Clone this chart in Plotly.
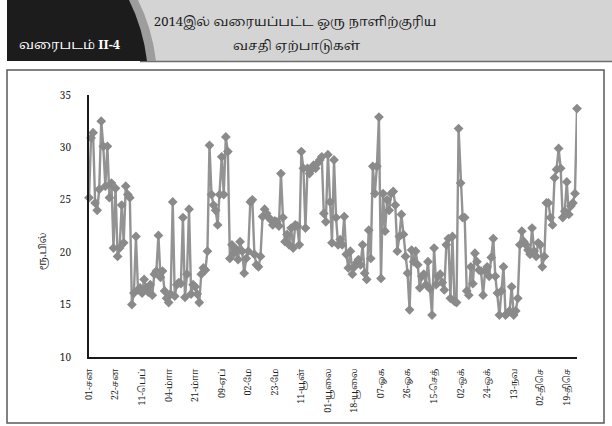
import plotly.graph_objects as go

# ---- data (Rs. billion, daily, 2014) ----
values = [
    25.2, 30.9, 31.4, 24.7, 24.0, 26.0, 32.5, 30.1, 26.3, 30.1, 25.2, 26.6, 20.4,
    26.1, 19.6, 20.4, 24.5, 20.9, 26.3, 25.5, 25.2, 15.0, 16.1, 21.5, 16.4, 16.6,
    16.1, 17.4, 16.6, 16.2, 16.9, 15.9, 17.9, 18.2, 21.6, 17.6, 18.2, 16.3, 15.6,
    15.2, 16.0, 24.8, 15.8, 16.9, 17.1, 17.0, 23.3, 15.7, 17.9, 24.1, 16.0, 16.9,
    16.7, 16.0, 15.2, 17.9, 18.5, 18.3, 20.1, 30.2, 25.5, 24.5, 24.0, 22.6, 25.5,
    29.1, 25.5, 31.0, 29.6, 19.4, 20.7, 19.9, 20.3, 19.3, 21.0, 20.1, 18.0, 19.4,
    20.1, 24.8, 25.0, 19.8, 18.8, 18.6, 19.6, 23.4, 24.1, 23.7, 23.3, 23.1, 22.6,
    23.0, 22.9, 22.5, 27.5, 23.3, 21.0, 21.7, 20.7, 22.3, 20.4, 22.6, 22.5, 20.7,
    29.6, 28.0, 22.3, 28.0, 27.5, 27.9, 28.3, 28.0, 28.5, 28.8, 29.1, 23.7, 22.9,
    29.3, 24.8, 20.9, 28.8, 23.3, 20.7, 21.2, 20.7, 23.4, 19.8, 18.5, 20.1, 17.9,
    18.6, 19.0, 19.3, 18.8, 20.7, 18.0, 17.4, 22.1, 19.4, 28.2, 25.6, 28.2, 32.9,
    17.5, 25.6, 22.0, 25.0, 24.0, 25.6, 25.8, 24.5, 20.1, 21.5, 23.6, 21.7, 19.6,
    18.0, 14.5, 20.2, 19.1, 20.1, 18.8, 16.6, 17.7, 17.9, 16.9, 19.1, 16.5, 14.0,
    20.4, 16.9, 17.7, 17.9, 17.1, 16.4, 20.7, 21.3, 15.6, 21.5, 15.3, 15.2, 31.8,
    26.6, 23.3, 23.3, 16.3, 15.9, 18.6, 17.0, 19.9, 19.1, 18.3, 18.2, 15.9, 18.2,
    18.6, 17.7, 19.5, 21.3, 17.7, 16.1, 14.0, 16.3, 18.6, 14.0, 14.2, 14.4, 16.7,
    14.0, 14.4, 15.6, 20.7, 22.0, 21.0, 20.7, 20.2, 19.8, 22.3, 20.1, 19.6, 20.9,
    20.7, 18.6, 19.6, 24.7, 24.7, 23.3, 22.6, 27.1, 27.9, 29.9, 28.0, 23.3, 23.9,
    26.7, 23.6, 24.4, 24.7, 25.6, 33.7,
]
tick_labels = [
    "01-சன", "22-சன", "11-பெப்", "04-மாா்", "21-மாா்", "09-ஏப்", "02-மே",
    "23-மே", "11-யூன்", "01-யூலை", "18-யூலை", "07-ஓக", "26-ஓக", "15-செத்",
    "02-ஒக்", "24-ஒக்", "13-நவ", "02-திசெ", "19-திசெ",
]
tick_step = 13
y_ticks = [10, 15, 20, 25, 30, 35]
y_title = "ரூ.பில்"
badge_text = "வரைபடம் <b>II-4</b>"
title_line1 = "2014இல் வரையப்பட்ட ஒரு நாளிற்குரிய"
title_line2 = "வசதி ஏற்பாடுகள்"

x_idx = list(range(len(values)))
tick_vals = [i * tick_step for i in range(len(tick_labels))]

W, H = 612, 426
L, R, T, B = 89, 577, 95, 357  # plot area in pixels

def px(x):
    return (x - L) / (R - L)

def py(y):
    return (B - y) / (B - T)

SERIF = "Noto Serif Tamil, Noto Sans Tamil, Lohit Tamil, Liberation Serif, serif"

fig = go.Figure()
fig.add_trace(go.Scatter(
    x=x_idx, y=values, mode="lines+markers",
    line=dict(color="#939393", width=2.4),
    marker=dict(symbol="diamond", size=7.5, color="#8a8a8a"),
    cliponaxis=False, hoverinfo="skip", showlegend=False,
))

shapes = []
# header light band
shapes.append(dict(type="rect", xref="paper", yref="paper",
                   x0=px(120), x1=px(612), y0=py(61), y1=py(0),
                   fillcolor="#d4d4d4", line=dict(width=0), layer="below"))
shapes.append(dict(type="line", xref="paper", yref="paper",
                   x0=px(140), x1=px(612), y0=py(61.5), y1=py(61.5),
                   line=dict(color="#6e6e6e", width=1.5), layer="below"))
# darker stripe beside the badge
stripe = (f"M {px(128)},{py(0)} L {px(138)},{py(0)} "
          f"Q {px(152)},{py(28)} {px(156)},{py(61)} L {px(146)},{py(61)} "
          f"Q {px(142)},{py(28)} {px(128)},{py(0)} Z")
shapes.append(dict(type="path", xref="paper", yref="paper", path=stripe,
                   fillcolor="#9d9d9d", line=dict(width=0), layer="below"))
# black badge
badge = (f"M {px(7)},{py(0)} L {px(129)},{py(0)} "
         f"Q {px(143)},{py(28)} {px(147)},{py(61)} L {px(7)},{py(61)} Z")
shapes.append(dict(type="path", xref="paper", yref="paper", path=badge,
                   fillcolor="#1c1c1c", line=dict(width=0), layer="below"))
# chart frame
shapes.append(dict(type="rect", xref="paper", yref="paper",
                   x0=px(7), x1=px(604), y0=py(423), y1=py(70),
                   line=dict(color="#5a5a5a", width=1.5), fillcolor="rgba(0,0,0,0)",
                   layer="below"))

annotations = [
    dict(text=badge_text, xref="paper", yref="paper", x=px(70), y=py(45),
         showarrow=False, font=dict(family=SERIF, size=13, color="white"),
         xanchor="center", yanchor="middle"),
    dict(text=title_line1, xref="paper", yref="paper", x=px(295), y=py(22),
         showarrow=False, font=dict(family=SERIF, size=13, color="#1a1a1a"),
         xanchor="center", yanchor="middle"),
    dict(text=title_line2, xref="paper", yref="paper", x=px(297), y=py(46),
         showarrow=False, font=dict(family=SERIF, size=13, color="#1a1a1a"),
         xanchor="center", yanchor="middle"),
    dict(text=y_title, xref="paper", yref="paper", x=px(43), y=py(252),
         showarrow=False, textangle=-90, font=dict(family=SERIF, size=10, color="#222"),
         xanchor="center", yanchor="middle"),
]

fig.update_layout(
    width=W, height=H,
    margin=dict(l=L, r=W - R, t=T, b=H - B, pad=0),
    paper_bgcolor="white", plot_bgcolor="white",
    shapes=shapes, annotations=annotations,
    font=dict(family=SERIF, color="#222"),
)
fig.update_xaxes(
    range=[0, len(values) - 1], tickmode="array", tickvals=tick_vals,
    ticktext=tick_labels, tickangle=-90, showgrid=False, zeroline=False,
    showline=True, linecolor="#1a1a1a", linewidth=2, ticks="",
    ticklabelstandoff=6, tickfont=dict(family=SERIF, size=9, color="#222"),
)
fig.update_yaxes(
    range=[10, 35], tickmode="array", tickvals=y_ticks, showgrid=False,
    zeroline=False, showline=True, linecolor="#1a1a1a", linewidth=2, ticks="",
    ticklabelstandoff=14, tickfont=dict(family=SERIF, size=10, color="#222"),
)

fig.write_html(
    "out.html",
    config={"displayModeBar": False},
    post_script="document.body.style.margin='0';document.body.style.padding='0';",
)
